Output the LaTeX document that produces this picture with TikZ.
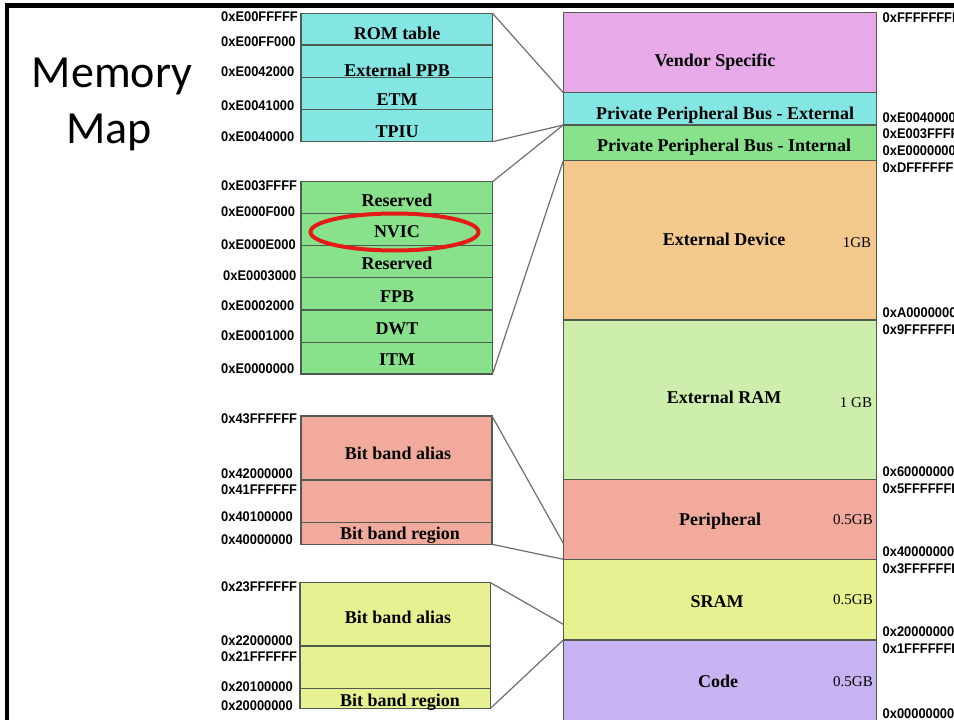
\documentclass[tikz,border=0pt]{standalone}
\usepackage{fontspec}
\setmainfont{Liberation Serif}
\newfontfamily\titlefont{Carlito}
\newfontfamily\addrfont[FakeStretch=0.92]{Liberation Sans}
\usetikzlibrary{fit,shapes.geometric}

\definecolor{cyanbox}{HTML}{84E6E2}
\definecolor{greenbox}{HTML}{88E28C}
\definecolor{vendorbox}{HTML}{E8A9E8}
\definecolor{devbox}{HTML}{F4C98E}
\definecolor{rambox}{HTML}{CDEFAB}
\definecolor{perbox}{HTML}{F2AA9C}
\definecolor{srambox}{HTML}{E7F192}
\definecolor{codebox}{HTML}{C8B3F2}
\definecolor{boxline}{HTML}{4F5A50}
\definecolor{linkgray}{HTML}{6E6E6E}
\definecolor{ring}{HTML}{E41B17}

\begin{document}
\begin{tikzpicture}[x=1pt,y=-1pt,
  region/.style={draw=boxline, line width=1.3pt, inner sep=0pt, outer sep=0pt},
  lbl/.style={inner sep=0pt, font=\fontsize{18}{20}\selectfont\bfseries, text height=12pt, text depth=0pt},
  size/.style={inner sep=0pt, font=\fontsize{15}{17}\selectfont, text height=10pt, text depth=0pt},
  addr/.style={inner sep=0pt, anchor=west, font=\addrfont\bfseries\fontsize{14}{16}\selectfont, text height=10pt, text depth=0pt},
  link/.style={draw=linkgray, line width=1.2pt},
  title/.style={inner sep=0pt, anchor=base, font=\titlefont\fontsize{46}{56}\selectfont}]

\useasboundingbox (0,0) rectangle (954,720);
\clip (0,0) rectangle (954,720);

% page frame
\draw[line width=4.5pt] (7,724) -- (7,5.5) -- (960,5.5);

% title
\node[title] (title1) at (112,87) {Memory};
\node[title] (title2) at (109,143) {Map};

% ---- full 4 GB map ----
\node[region, fill=vendorbox, fit={(563.3,12.7) (876.7,92.7)}] (vendor) {};
\node[region, fill=cyanbox,   fit={(563.3,92.7) (876.7,125)}] (ppbext) {};
\node[region, fill=greenbox,  fit={(563.3,125) (876.7,160.7)}] (ppbint) {};
\node[region, fill=devbox,    fit={(563.3,160.7) (876.7,320)}] (extdev) {};
\node[region, fill=rambox,    fit={(563.3,320) (876.7,479.3)}] (extram) {};
\node[region, fill=perbox,    fit={(563.3,479.3) (876.7,559.3)}] (periph) {};
\node[region, fill=srambox,   fit={(563.3,559.3) (876.7,640)}] (sram) {};
\node[region, fill=codebox,   fit={(563.3,640) (876.7,726)}] (code) {};

\node[lbl] (tvendor) at (715,60) {Vendor Specific};
\node[lbl] (tppbext) at (725,113) {Private Peripheral Bus - External};
\node[lbl] (tppbint) at (724,145) {Private Peripheral Bus - Internal};
\node[lbl] (textdev) at (724,239) {External Device};
\node[lbl] (textram) at (724,397) {External RAM};
\node[lbl] (tperiph) at (720,519) {Peripheral};
\node[lbl] (tsram)   at (717,601) {SRAM};
\node[lbl] (tcode)   at (718,681) {Code};

\node[size] (sdev)  at (857,242) {1GB};
\node[size] (sram1) at (856,402) {1 GB};
\node[size] (sper)  at (853,519) {0.5GB};
\node[size] (ssram) at (853,599) {0.5GB};
\node[size] (scode) at (853,681) {0.5GB};

% addresses of the full map (they run off the right edge)
\node[addr] (r0) at (882.5,17)  {0xFFFFFFFF};
\node[addr] (r1) at (882.5,117) {0xE0040000};
\node[addr] (r2) at (882.5,133) {0xE003FFFF};
\node[addr] (r3) at (882.5,150) {0xE0000000};
\node[addr] (r4) at (882.5,167) {0xDFFFFFFF};
\node[addr] (r5) at (882.5,312) {0xA0000000};
\node[addr] (r6) at (882.5,329) {0x9FFFFFFF};
\node[addr] (r7) at (882.5,471) {0x60000000};
\node[addr] (r8) at (882.5,488) {0x5FFFFFFF};
\node[addr] (r9) at (882.5,551) {0x40000000};
\node[addr] (r10) at (882.5,568) {0x3FFFFFFF};
\node[addr] (r11) at (882.5,631) {0x20000000};
\node[addr] (r12) at (882.5,648) {0x1FFFFFFF};
\node[addr] (r13) at (882.5,713) {0x00000000};

% ---- external PPB detail ----
\node[region, fill=cyanbox, fit={(301,13.3) (492.5,45)}]    (rom) {};
\node[region, fill=cyanbox, fit={(301,45) (492.5,77.7)}]    (extppb) {};
\node[region, fill=cyanbox, fit={(301,77.7) (492.5,109.3)}] (etm) {};
\node[region, fill=cyanbox, fit={(301,109.3) (492.5,141.7)}] (tpiu) {};
\node[lbl] (trom)    at (397,33)  {ROM table};
\node[lbl] (textppb) at (397,70)  {External PPB};
\node[lbl] (tetm)    at (397,99)  {ETM};
\node[lbl] (ttpiu)   at (397,131) {TPIU};

% ---- internal PPB detail ----
\node[region, fill=greenbox, fit={(301,181.7) (492.5,213.3)}] (resA) {};
\node[region, fill=greenbox, fit={(301,213.3) (492.5,245.7)}] (nvic) {};
\node[region, fill=greenbox, fit={(301,245.7) (492.5,277.7)}] (resB) {};
\node[region, fill=greenbox, fit={(301,277.7) (492.5,310)}]   (fpb) {};
\node[region, fill=greenbox, fit={(301,310) (492.5,342.3)}]   (dwt) {};
\node[region, fill=greenbox, fit={(301,342.3) (492.5,374)}]   (itm) {};
\node[lbl] (tresA) at (397,200) {Reserved};
\node[lbl] (tnvic) at (397,231) {NVIC};
\node[lbl] (tresB) at (397,263) {Reserved};
\node[lbl] (tfpb)  at (397,296) {FPB};
\node[lbl] (tdwt)  at (397,328) {DWT};
\node[lbl] (titm)  at (397,359) {ITM};

% highlight ring
\node[draw=ring, line width=4pt, ellipse, inner sep=0pt, minimum width=168pt, minimum height=37pt] (mark) at (394.5,232) {};

% ---- peripheral bit band ----
\node[region, fill=perbox, fit={(301,416) (492,480)}]     (pAlias) {};
\node[region, fill=perbox, fit={(301,480) (492,522.7)}]   (pGap) {};
\node[region, fill=perbox, fit={(301,522.7) (492,544.3)}] (pRegion) {};
\node[lbl] (tpAlias)  at (398,453) {Bit band alias};
\node[lbl] (tpRegion) at (400,533) {Bit band region};

% ---- SRAM bit band ----
\node[region, fill=srambox, fit={(300,582.7) (490.5,646)}]   (sAlias) {};
\node[region, fill=srambox, fit={(300,646) (490.5,688.3)}]   (sGap) {};
\node[region, fill=srambox, fit={(300,688.3) (490.5,708.3)}] (sRegion) {};
\node[lbl] (tsAlias)  at (398,617) {Bit band alias};
\node[lbl] (tsRegion) at (400,700) {Bit band region};

% detail addresses
\node[addr] (a0)  at (221,16.7)  {0xE00FFFFF};
\node[addr] (a1)  at (221,41.7)  {0xE00FF000};
\node[addr] (a2)  at (221,71.5)  {0xE0042000};
\node[addr] (a3)  at (221,105)   {0xE0041000};
\node[addr] (a4)  at (221,136.5) {0xE0040000};
\node[addr] (a5)  at (221,185)   {0xE003FFFF};
\node[addr] (a6)  at (221,211.5) {0xE000F000};
\node[addr] (a7)  at (221,244)   {0xE000E000};
\node[addr] (a8)  at (223,275)   {0xE0003000};
\node[addr] (a9)  at (221,305)   {0xE0002000};
\node[addr] (a10) at (221,335.5) {0xE0001000};
\node[addr] (a11) at (221,368.5) {0xE0000000};
\node[addr] (a12) at (221,418.3) {0x43FFFFFF};
\node[addr] (a13) at (221,473.3) {0x42000000};
\node[addr] (a14) at (221,489.3) {0x41FFFFFF};
\node[addr] (a15) at (221,516.7) {0x40100000};
\node[addr] (a16) at (221,539.3) {0x40000000};
\node[addr] (a17) at (221,586.7) {0x23FFFFFF};
\node[addr] (a18) at (221,640)   {0x22000000};
\node[addr] (a19) at (221,656.7) {0x21FFFFFF};
\node[addr] (a20) at (221,686)   {0x20100000};
\node[addr] (a21) at (221,705)   {0x20000000};

% zoom connectors
\coordinate (perAliasEnd) at (563.3,543.3);
\coordinate (sramAliasEnd) at (563.3,624.3);
\draw[link] (rom.north east) -- (vendor.south west);
\draw[link] (tpiu.south east) -- (ppbint.north west);
\draw[link] (resA.north east) -- (ppbint.north west);
\draw[link] (itm.south east) -- (ppbint.south west);
\draw[link] (pAlias.north east) -- (perAliasEnd);
\draw[link] (pRegion.south east) -- (periph.south west);
\draw[link] (sAlias.north east) -- (sramAliasEnd);
\draw[link] (sRegion.south east) -- (sram.south west);
\end{tikzpicture}
\end{document}
